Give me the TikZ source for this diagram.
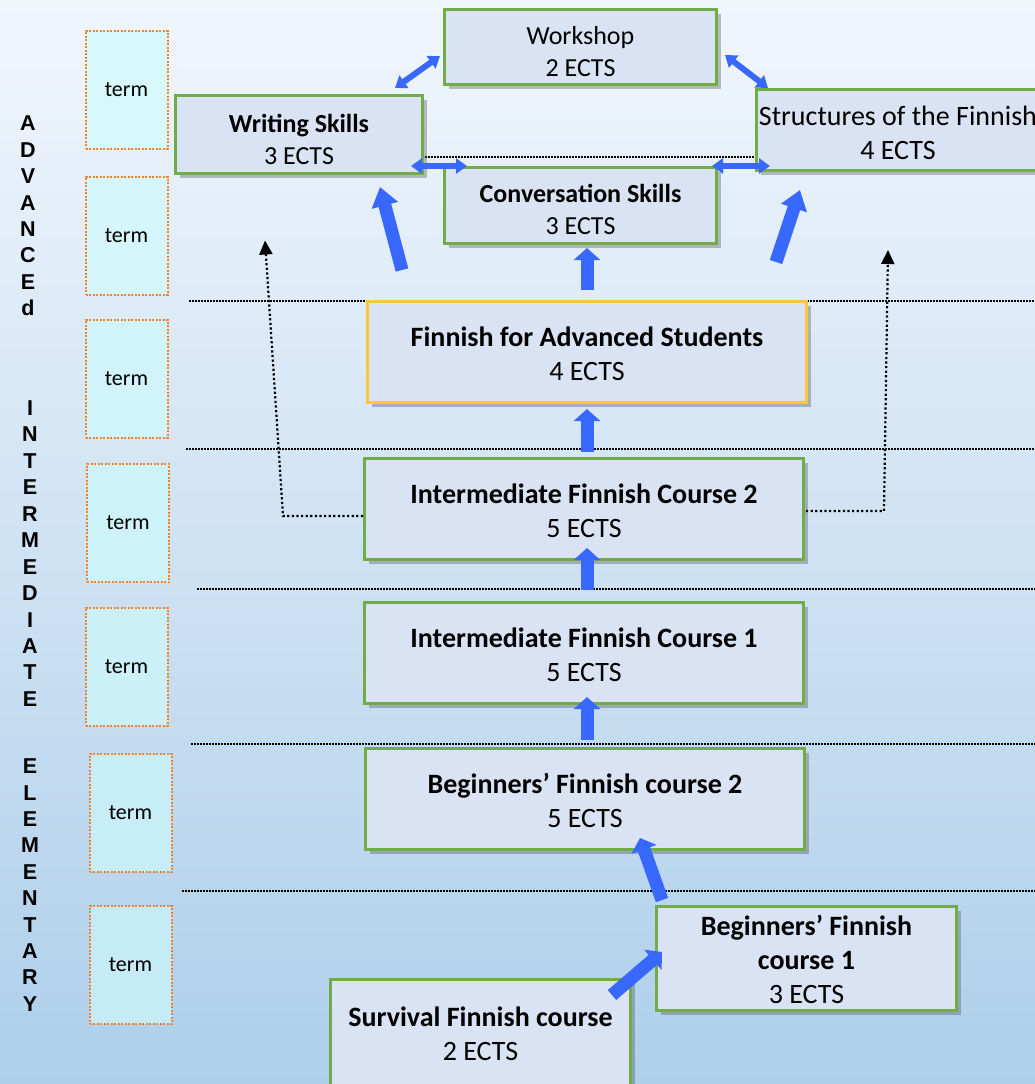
\documentclass[tikz,border=0pt]{standalone}
\usepackage{fontspec}
\setmainfont{Carlito}
\newfontfamily\letterfont{Liberation Sans}
\usetikzlibrary{arrows.meta,shadows,calc}
\definecolor{bgtop}{RGB}{241,246,253}
\definecolor{bgbot}{RGB}{174,207,234}
\definecolor{boxfill}{RGB}{218,227,243}
\definecolor{boxgreen}{RGB}{112,173,71}
\definecolor{boxyellow}{RGB}{252,198,58}
\definecolor{arrowblue}{RGB}{56,104,255}
\definecolor{termtop}{RGB}{216,248,251}
\definecolor{termbot}{RGB}{194,234,246}
\definecolor{termorange}{RGB}{240,130,50}
\tikzset{
  course/.style={draw=boxgreen, line width=3pt, fill=boxfill, inner sep=0pt,
    drop shadow={shadow xshift=4pt, shadow yshift=-4pt, opacity=0.35, fill=black!70}},
  smalltext/.style={align=center, inner sep=0pt, font=\fontsize{26}{32}\selectfont},
  bigtext/.style={align=center, inner sep=0pt, font=\fontsize{28}{34}\selectfont},
  termbox/.style={draw=termorange, line width=2pt, dash pattern=on 2pt off 1.5pt,
    minimum width=82pt, minimum height=118pt, inner sep=0pt,
    font=\fontsize{22}{26}\selectfont},
  lettercol/.style={align=center, inner sep=0pt, font=\letterfont\bfseries\fontsize{21.5}{26.4}\selectfont},
  sepline/.style={draw=black, line width=1.5pt, dash pattern=on 1.5pt off 1.5pt},
  dotarrow/.style={draw=black, line width=2.2pt, dash pattern=on 2.2pt off 2.4pt,
    -{Triangle[length=14pt,width=13pt]}},
  bigarrow/.style={draw=arrowblue, line width=13pt, -{Triangle[length=19pt,width=26pt]}},
  midarrow/.style={draw=arrowblue, line width=13pt, -{Triangle[length=12pt,width=26pt]}},
  dblarrow/.style={draw=arrowblue, line width=6pt,
    {Triangle[length=11pt,width=15pt]}-{Triangle[length=11pt,width=15pt]}},
}
\begin{document}
\begin{tikzpicture}[x=1pt,y=-1pt]
\useasboundingbox (0,0) rectangle (1035,1084);
\clip (0,0) rectangle (1035,1084);
\shade[top color=bgtop, bottom color=bgbot] (0,0) rectangle (1035,1084);

% level letters
\node[lettercol] (ladv) at (28,216) {A\\D\\V\\A\\N\\C\\E\\d};
\node[lettercol,font=\letterfont\bfseries\fontsize{21.5}{26.45}\selectfont] (lint) at (30,553.5) {I\\N\\T\\E\\R\\M\\E\\D\\I\\A\\T\\E};
\node[lettercol] (lele) at (30,885) {E\\L\\E\\M\\E\\N\\T\\A\\R\\Y};

% term boxes
\node[termbox, fill=termtop] (t1) at (126.5,89.5) {term};
\node[termbox, fill=termtop!85!termbot] (t2) at (126.5,235.5) {term};
\node[termbox, fill=termtop!70!termbot] (t3) at (126.5,378.5) {term};
\node[termbox, fill=termtop!55!termbot] (t4) at (128,523) {term};
\node[termbox, fill=termtop!40!termbot] (t5) at (126.5,666.5) {term};
\node[termbox, fill=termtop!25!termbot] (t6) at (130.5,813) {term};
\node[termbox, fill=termtop!10!termbot] (t7) at (130.5,965) {term};

% separators
\draw[sepline] (189,301) -- (1035,301);
\draw[sepline] (186,449) -- (1035,449);
\draw[sepline] (197,589) -- (1035,589);
\draw[sepline] (191,744) -- (1035,744);
\draw[sepline] (182,891) -- (1035,891);
\draw[sepline] (425,157) -- (755,157);

% course boxes
\node[course, minimum width=272pt, minimum height=75pt] (work) at (580.5,47) {};
\node[course, minimum width=247pt, minimum height=78pt] (writ) at (299,134.5) {};
\node[course, minimum width=283pt, minimum height=81pt] (struc) at (898,130) {};
\node[course, minimum width=272pt, minimum height=76pt] (conv) at (580.5,205.5) {};
\node[course, draw=boxyellow, minimum width=439pt, minimum height=101pt] (adv) at (587,352) {};
\node[course, minimum width=439pt, minimum height=101pt] (int2) at (584,509) {};
\node[course, minimum width=439pt, minimum height=101pt] (int1) at (584,653) {};
\node[course, minimum width=439pt, minimum height=101pt] (beg2) at (585,799) {};
\node[course, minimum width=300pt, minimum height=104pt] (beg1) at (806.5,958.5) {};
\node[course, minimum width=300pt, minimum height=109pt] (surv) at (480.5,1034) {};

% course texts
\node[smalltext] (workt) at ($(work)+(0,5)$) {Workshop\\2 ECTS};
\node[smalltext] (writt) at ($(writ)+(0,4.5)$) {\textbf{Writing Skills}\\3 ECTS};
\node[bigtext] (struct) at ($(struc)+(0,2.5)$) {Structures of the Finnish\\4 ECTS};
\node[smalltext] (convt) at ($(conv)+(0,4)$) {\textbf{Conversation Skills}\\3 ECTS};
\node[bigtext] (advt) at ($(adv)+(0,2)$) {\textbf{Finnish for Advanced Students}\\4 ECTS};
\node[bigtext] (int2t) at ($(int2)+(0,1.5)$) {\textbf{Intermediate Finnish Course 2}\\5 ECTS};
\node[bigtext] (int1t) at ($(int1)+(0,2)$) {\textbf{Intermediate Finnish Course 1}\\5 ECTS};
\node[bigtext] (beg2t) at ($(beg2)+(0,1)$) {\textbf{Beginners’ Finnish course 2}\\5 ECTS};
\node[bigtext] (beg1t) at ($(beg1)+(0,0.5)$) {\textbf{Beginners’ Finnish}\\\textbf{course 1}\\3 ECTS};
\node[bigtext] (survt) at ($(surv)+(0,0)$) {\textbf{Survival Finnish course}\\2 ECTS};

% dotted arrows from Intermediate 2
\draw[dotarrow] ($(int2)+(-221,7)$) -- ($(int2)+(-301,7)$) -- ($(writ)+(-34,106)$);
\draw[dotarrow] ($(int2)+(222,2)$) -- ($(int2)+(300,2)$) -- ($(struc)+(-10,120)$);

% blue arrows
\draw[dblarrow] ($(writ)+(96,-46.5)$) -- ($(work)+(-140.5,9)$);
\draw[dblarrow] ($(work)+(144.5,8)$) -- ($(struc)+(-130,-42)$);
\draw[dblarrow] ($(writ)+(112,31.5)$) -- ($(conv)+(-113.5,-39.5)$);
\draw[dblarrow] ($(conv)+(131.5,-39.5)$) -- ($(struc)+(-128,36)$);
\draw[bigarrow] ($(adv)+(-185,-82)$) -- ($(writ)+(81,52.5)$);
\draw[midarrow] ($(adv)+(0,-62)$) -- ($(conv)+(6.5,42.5)$);
\draw[bigarrow] ($(adv)+(189,-90)$) -- ($(struc)+(-98,60)$);
\draw[midarrow] ($(int2)+(3,-57)$) -- ($(adv)+(0,57)$);
\draw[midarrow] ($(int1)+(3,-63)$) -- ($(int2)+(3,39)$);
\draw[midarrow] ($(beg2)+(2,-59)$) -- ($(int1)+(3,44)$);
\draw[midarrow] ($(beg1)+(-144.5,-58.5)$) -- ($(beg2)+(55,39)$);
\draw[midarrow] ($(surv)+(131.5,-39)$) -- ($(beg1)+(-144.5,-6.5)$);
\end{tikzpicture}
\end{document}
